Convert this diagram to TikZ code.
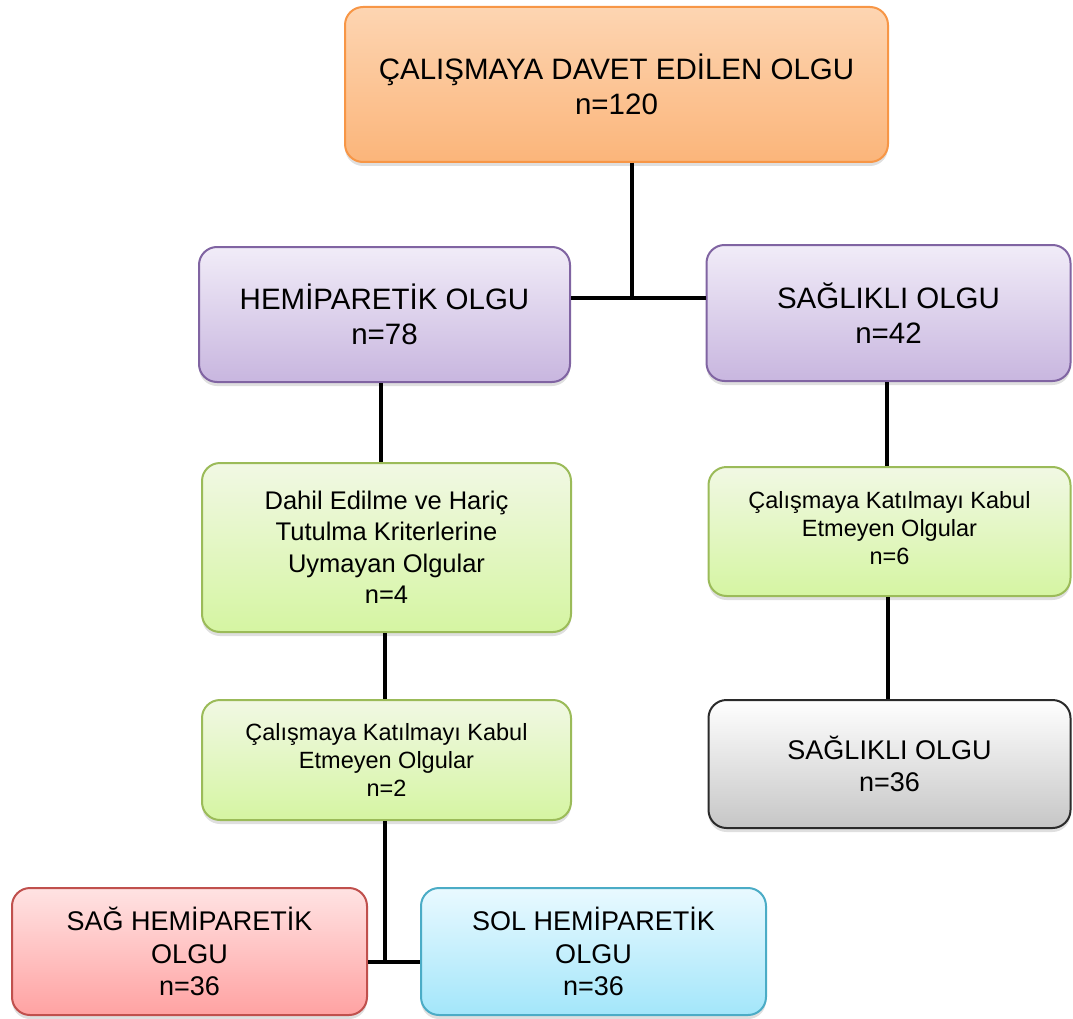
\documentclass[tikz,border=0pt]{standalone}
\usepackage{fontspec}
\setmainfont{Liberation Sans}
\usepackage{tikz}
\usetikzlibrary{positioning, shadows, calc}

\definecolor{orangeTop}{HTML}{FDD5B2}
\definecolor{orangeBot}{HTML}{FBB57A}
\definecolor{orangeLine}{HTML}{F79646}
\definecolor{purpleTop}{HTML}{F1ECF8}
\definecolor{purpleBot}{HTML}{C8B6DF}
\definecolor{purpleLine}{HTML}{8064A2}
\definecolor{greenTop}{HTML}{F1F8E4}
\definecolor{greenBot}{HTML}{D5F5A2}
\definecolor{greenLine}{HTML}{9BBB59}
\definecolor{grayTop}{HTML}{FFFFFF}
\definecolor{grayBot}{HTML}{C6C6C6}
\definecolor{grayLine}{HTML}{2B2B2B}
\definecolor{redTop}{HTML}{FFE3E3}
\definecolor{redBot}{HTML}{FFA2A2}
\definecolor{redLine}{HTML}{C0504D}
\definecolor{cyanTop}{HTML}{E9F9FF}
\definecolor{cyanBot}{HTML}{A3E6FA}
\definecolor{cyanLine}{HTML}{4BACC6}

\begin{document}
\begin{tikzpicture}[x=1pt, y=-1pt,
  box/.style={rounded corners=18pt, line width=2pt, align=center, inner sep=0pt,
    drop shadow={shadow xshift=0pt, shadow yshift=-4pt, opacity=0.25}},
  bigtext/.style={font=\fontsize{29.5}{35}\selectfont},
  midtext/.style={font=\fontsize{25.5}{31.5}\selectfont},
  smalltext/.style={font=\fontsize{23.5}{28}\selectfont},
  lowtext/.style={font=\fontsize{27}{32.5}\selectfont},
  orangebox/.style={box, draw=orangeLine, top color=orangeTop, bottom color=orangeBot},
  purplebox/.style={box, draw=purpleLine, top color=purpleTop, bottom color=purpleBot},
  greenbox/.style={box, draw=greenLine, top color=greenTop, bottom color=greenBot},
  graybox/.style={box, draw=grayLine, top color=grayTop, bottom color=grayBot},
  redbox/.style={box, draw=redLine, top color=redTop, bottom color=redBot},
  cyanbox/.style={box, draw=cyanLine, top color=cyanTop, bottom color=cyanBot},
  link/.style={line width=4pt, black}]
  \useasboundingbox (0,0) rectangle (1073,1019);
  % Boxes
  \node[orangebox, bigtext, minimum width=543pt, minimum height=155pt] (invited) at (616.5,84.5)
    {ÇALIŞMAYA DAVET EDİLEN OLGU\\n=120};
  \node[purplebox, bigtext, minimum width=371pt, minimum height=135pt] (hemi) at (384.5,314.5)
    {HEMİPARETİK OLGU\\n=78};
  \node[purplebox, bigtext, minimum width=364pt, minimum height=136pt] (healthy) at (888.5,313)
    {SAĞLIKLI OLGU\\n=42};
  \node[greenbox, midtext, minimum width=369pt, minimum height=169pt] (incl) at (386.5,547.5)
    {Dahil Edilme ve Hariç\\Tutulma Kriterlerine\\Uymayan Olgular\\n=4};
  \node[greenbox, smalltext, minimum width=362pt, minimum height=129pt, text depth=8pt] (refuseR) at (889.5,531.5)
    {Çalışmaya Katılmayı Kabul\\Etmeyen Olgular\\n=6};
  \node[greenbox, smalltext, minimum width=369pt, minimum height=120pt] (refuseL) at (386.5,760)
    {Çalışmaya Katılmayı Kabul\\Etmeyen Olgular\\n=2};
  \node[graybox, lowtext, minimum width=362pt, minimum height=128pt] (healthyN) at (889.5,764)
    {SAĞLIKLI OLGU\\n=36};
  \node[redbox, lowtext, minimum width=355pt, minimum height=127pt] (rightHemi) at (189.5,951.5)
    {SAĞ HEMİPARETİK\\OLGU\\n=36};
  \node[cyanbox, lowtext, minimum width=345pt, minimum height=127pt] (leftHemi) at (593.5,951.5)
    {SOL HEMİPARETİK\\OLGU\\n=36};
  % Connectors
  \coordinate (split) at (632,298);
  \coordinate (merge) at (385,962);
  \draw[link] (invited.south -| split) -- (split);
  \draw[link] (hemi.east |- split) -- (healthy.west |- split);
  \draw[link] ([xshift=-3.5pt]hemi.south) -- ([xshift=-3.5pt]hemi.south |- incl.north);
  \draw[link] ([xshift=-1.5pt]incl.south) -- ([xshift=-1.5pt]refuseL.north);
  \draw[link] (refuseL.south -| merge) -- (merge);
  \draw[link] (rightHemi.east |- merge) -- (leftHemi.west |- merge);
  \draw[link] ([xshift=-2pt]healthy.south) -- ([xshift=-2pt]healthy.south |- refuseR.north);
  \draw[link] ([xshift=-2pt]refuseR.south) -- ([xshift=-2pt]refuseR.south |- healthyN.north);
\end{tikzpicture}
\end{document}
